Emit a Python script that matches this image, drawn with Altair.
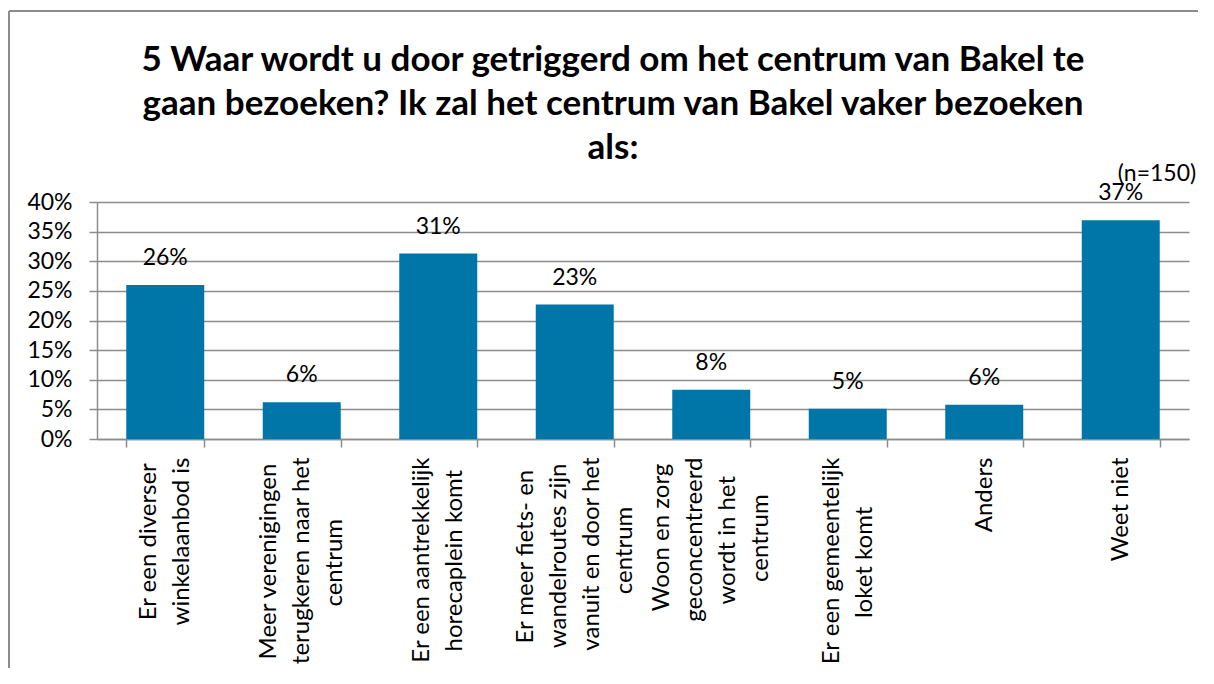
import altair as alt
import pandas as pd

# ---------------- data ----------------
categories = [
    "Er een diverser winkelaanbod is",
    "Meer verenigingen terugkeren naar het centrum",
    "Er een aantrekkelijk horecaplein komt",
    "Er meer fiets- en wandelroutes zijn vanuit en door het centrum",
    "Woon en zorg geconcentreerd wordt in het centrum",
    "Er een gemeentelijk loket komt",
    "Anders",
    "Weet niet",
]
values = [26.0, 6.2, 31.3, 22.7, 8.3, 5.1, 5.8, 36.9]
label_lines = [
    ["Er een diverser", "winkelaanbod is"],
    ["Meer verenigingen", "terugkeren naar het", "centrum"],
    ["Er een aantrekkelijk", "horecaplein komt"],
    ["Er meer fiets- en", "wandelroutes zijn", "vanuit en door het", "centrum"],
    ["Woon en zorg", "geconcentreerd", "wordt in het", "centrum"],
    ["Er een gemeentelijk", "loket komt"],
    ["Anders"],
    ["Weet niet"],
]
y_ticks = [0, 5, 10, 15, 20, 25, 30, 35, 40]
title_lines = [
    "5 Waar wordt u door getriggerd om het centrum van Bakel te",
    "gaan bezoeken? Ik zal het centrum van Bakel vaker bezoeken",
    "als:",
]
note = "(n=150)"

# ---------------- helpers (layout only) ----------------
FONT = "Lato"
BLUE = "#0076A8"
GRID = "#8C8C8C"
LINE_H = 33
PW, PH = 1092, 237
PAD = {"left": 89, "top": 194, "right": 9, "bottom": 229}

_w = {
    "a": .50, "b": .56, "c": .46, "d": .56, "e": .52, "f": .32, "g": .50, "h": .56,
    "i": .24, "j": .24, "k": .49, "l": .24, "m": .83, "n": .56, "o": .56, "p": .56,
    "q": .56, "r": .36, "s": .42, "t": .34, "u": .56, "v": .50, "w": .77, "x": .49,
    "y": .50, "z": .45, " ": .26, "-": .36, "E": .55, "M": .86, "W": 1.0, "A": .67,
}
NBSP_W = 0.26


def est(s):
    return sum(_w.get(c, .55) for c in s)


def centred(lines):
    # trailing non-breaking spaces (kept from trimming by a zero-width space)
    m = max(est(l) for l in lines)
    out = []
    for l in lines:
        n = int(round((m - est(l)) / 2 / NBSP_W))
        out.append(l + ("\u00a0" * n + "\u200b" if n else ""))
    return out


def js_arr(lines):
    return "[" + ",".join("'" + l + "'" for l in lines) + "]"


expr = "datum.label"
for cat, lines in reversed(list(zip(categories, label_lines))):
    expr = f"datum.label == '{cat}' ? {js_arr(centred(lines))} : ({expr})"

# shift multi-line blocks so that the whole block is centred on its band
offset_cond = {
    "condition": [
        {"test": f"datum.value == '{cat}'", "value": -(len(lines) - 1) * LINE_H / 2}
        for cat, lines in zip(categories, label_lines)
        if len(lines) > 1
    ],
    "value": 0,
}

df = pd.DataFrame({"cat": categories, "val": values})

x_enc = alt.X(
    "cat:N",
    sort=categories,
    title=None,
    scale=alt.Scale(paddingInner=0.4286, paddingOuter=0.2143),
    axis=alt.Axis(
        labelAngle=-90,
        labelAlign="right",
        labelBaseline="middle",
        labelExpr=expr,
        labelFontSize=24,
        labelLineHeight=LINE_H,
        labelPadding=10,
        labelOffset=offset_cond,
        tickBand="extent",
        tickSize=8,
        tickColor=GRID,
        tickWidth=1.5,
        domainColor=GRID,
        domainWidth=1.5,
        grid=False,
        labelLimit=0,
        labelOverlap=False,
    ),
)

y_enc = alt.Y(
    "val:Q",
    title=None,
    scale=alt.Scale(domain=[0, 40], nice=False),
    axis=alt.Axis(
        values=y_ticks,
        labelExpr="datum.value + '%'",
        labelFontSize=23,
        labelPadding=17,
        labelOverlap=False,
        tickSize=8,
        tickColor=GRID,
        tickWidth=1.5,
        domainColor=GRID,
        domainWidth=1.5,
        grid=True,
        gridColor=GRID,
        gridWidth=1.5,
    ),
)

base = alt.Chart(df).encode(x=x_enc, y=y_enc)

bars = base.mark_bar(color=BLUE)

labels = base.transform_calculate(
    lbl="format(datum.val, '.0f') + '%'"
).mark_text(
    font=FONT, fontSize=23, color="black", baseline="middle", dy=-27
).encode(text="lbl:N")

# outer frame of the chart (left and top edges only are visible)
x_left = -PAD["left"] + 1
y_top = -PAD["top"] + 3
x_right = PW + PAD["right"]
y_bottom = PH + PAD["bottom"]
frame_src = alt.Chart(pd.DataFrame({"k": [0]}))
border_top = frame_src.mark_rule(color="#8C8C8C", strokeWidth=2).encode(
    x=alt.value(x_left), x2=alt.value(x_right), y=alt.value(y_top), y2=alt.value(y_top)
)
border_left = frame_src.mark_rule(color="#8C8C8C", strokeWidth=2).encode(
    x=alt.value(x_left), x2=alt.value(x_left), y=alt.value(y_top), y2=alt.value(y_bottom)
)

note_layer = alt.Chart(pd.DataFrame({"t": [note]})).mark_text(
    font=FONT, fontSize=23, color="black", baseline="middle", align="center"
).encode(text="t:N", x=alt.value(1060), y=alt.value(-28))

chart = alt.layer(border_top, border_left, bars, labels, note_layer).properties(
    width=PW,
    height=PH,
    autosize="none",
    padding=PAD,
    title=alt.TitleParams(
        text=title_lines,
        font=FONT,
        fontSize=35,
        fontWeight="bold",
        lineHeight=44,
        color="black",
        anchor="middle",
        offset=0,
        dx=-30,
        dy=156,
    ),
).configure_view(stroke=None).configure_axis(
    labelFont=FONT, labelColor="black"
)

chart.save("out.html", embed_options={"renderer": "svg", "actions": False})
